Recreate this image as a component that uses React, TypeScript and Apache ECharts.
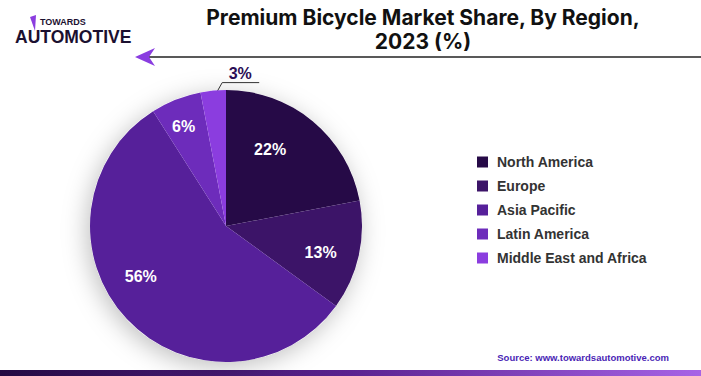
import React, { useEffect, useRef } from "react";
import * as echarts from "echarts";

const regions = ["North America", "Europe", "Asia Pacific", "Latin America", "Middle East and Africa"];
const shares = [22, 13, 56, 6, 3];
const colors = ["#260a47", "#3c1468", "#56209a", "#6d2cbb", "#8b3ddf"];
const titleText = "Premium Bicycle Market Share, By Region,\n2023 (%)";
const sourceText = "Source: www.towardsautomotive.com";
// small nudges of the inside labels, in pixels
const labelNudges = [[-19, 0], [-2, 5], [-13, -17], [-6, -7], [0, 0]];

export default function App() {
  const ref = useRef<HTMLDivElement>(null);
  useEffect(() => {
    if (!ref.current) return;
    const chart = echarts.init(ref.current, undefined, { renderer: "svg" });
    const outerIndex = 4;
    const data = regions.map((name, i) => ({
      name,
      value: shares[i],
      itemStyle: { color: colors[i] },
      label: { show: i === outerIndex },
      labelLine: { show: i === outerIndex },
    }));
    chart.setOption({
      animation: false,
      backgroundColor: "#ffffff",
      title: {
        text: titleText,
        left: 418,
        top: 0,
        textAlign: "center",
        textStyle: { fontFamily: "Inter", fontWeight: "bold", fontSize: 21, lineHeight: 24, color: "#111111" },
      },
      legend: {
        orient: "vertical",
        left: 472,
        top: 150,
        itemWidth: 11,
        itemHeight: 11,
        itemGap: 10,
        icon: "rect",
        data: regions,
        textStyle: { fontFamily: "Liberation Sans", fontWeight: "bold", fontSize: 14, lineHeight: 14, color: "#333333", padding: [0, 0, 0, 4] },
      },
      graphic: [
        { type: "text", left: 40, top: 17, style: { text: "TOWARDS", fontFamily: "Liberation Sans", fontWeight: 900, fontSize: 9, fill: "#1b1030" } },
        { type: "text", left: 15, top: 28, style: { text: "AUTOMOTIVE", fontFamily: "Liberation Sans", fontWeight: 900, fontSize: 17.5, fill: "#1b1030" } },
        { type: "polygon", shape: { points: [[30, 17], [36, 15], [35, 31]] }, style: { fill: "#8b3ddf" } },
        { type: "line", shape: { x1: 146, y1: 57, x2: 701, y2: 57 }, style: { stroke: "#222222", lineWidth: 1.5 } },
        { type: "polygon", shape: { points: [[135, 57], [155, 48], [149, 57], [155, 66]] }, style: { fill: "#8a3de0" } },
        { type: "text", right: 32, top: 352, style: { text: sourceText, fontFamily: "Liberation Sans", fontWeight: "bold", fontSize: 9.5, fill: "#4a1fb5" } },
        {
          type: "rect", left: 0, bottom: 0, shape: { width: 701, height: 6 },
          style: { fill: new echarts.graphic.LinearGradient(0, 0, 1, 0, [{ offset: 0, color: "#230a42" }, { offset: 0.5, color: "#5a2290" }, { offset: 1, color: "#a763e6" }]) },
        },
      ],
      series: [
        {
          type: "pie",
          silent: true,
          center: [226, 226],
          radius: 136,
          z: 1,
          label: { show: false },
          labelLine: { show: false },
          itemStyle: { color: "#ffffff", shadowBlur: 24, shadowColor: "rgba(0,0,0,0.25)", shadowOffsetX: -3, shadowOffsetY: 5 },
          data: [{ name: "bg", value: 1 }],
          tooltip: { show: false },
        },
        {
          type: "pie",
          center: [226, 226],
          radius: 136,
          startAngle: 90,
          clockwise: true,
          z: 2,
          data,
          label: {
            position: "outside",
            formatter: (p: any) => `${p.value}%`,
            fontFamily: "Liberation Sans",
            fontWeight: "bold",
            fontSize: 16,
            color: "#2a0d55",
          },
          labelLine: { length: 10, length2: 30, lineStyle: { color: "#333333", width: 1 } },
          labelLayout: (p: any) => {
            if (p.dataIndex !== outerIndex || !p.labelLinePoints) return {};
            const a = p.labelLinePoints[0];
            return {
              x: a[0] + 27,
              y: a[1] - 9,
              align: "center",
              verticalAlign: "bottom",
              labelLinePoints: [
                [a[0], a[1] + 8],
                [a[0] + 9, a[1] - 8],
                [a[0] + 46, a[1] - 8],
              ],
            };
          },
        },
        {
          type: "pie",
          silent: true,
          center: [226, 226],
          radius: [56, 136],
          startAngle: 90,
          clockwise: true,
          z: 3,
          data: regions.map((name, i) => ({ name, value: shares[i] })),
          itemStyle: { color: "rgba(0,0,0,0)" },
          label: {
            show: true,
            position: "inside",
            formatter: (p: any) => (p.dataIndex === outerIndex ? "" : `${p.value}%`),
            fontFamily: "Liberation Sans",
            fontWeight: "bold",
            fontSize: 16,
            color: "#ffffff",
          },
          labelLayout: (p: any) => ({ dx: labelNudges[p.dataIndex][0], dy: labelNudges[p.dataIndex][1] }),
          labelLine: { show: false },
          legendHoverLink: false,
        },
      ],
    });
    return () => chart.dispose();
  }, []);
  return <div ref={ref} style={{ position: "absolute", left: 0, top: 0, width: 701, height: 376 }} />;
}
